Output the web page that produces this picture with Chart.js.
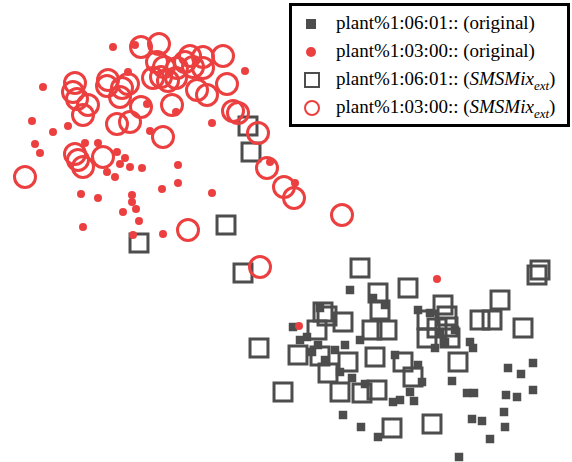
<!DOCTYPE html>
<html>
<head>
<meta charset="utf-8">
<script src="https://cdn.jsdelivr.net/npm/chart.js@4"></script>
<style>
  body { margin: 0; background: #fff; }
  #wrap { position: relative; width: 572px; height: 462px; }
  #legend {
    position: absolute; left: 289px; top: 3px; width: 275px; height: 118px;
    border: 3px solid #000; background: #fff;
    font-family: "Liberation Serif", serif; font-size: 19px; color: #000;
  }
  .row { position: absolute; left: 0; height: 26px; line-height: 26px; white-space: nowrap; }
  .row .mk { position: absolute; left: 12px; top: 6px; width: 14px; height: 14px; }
  .row .tx { position: absolute; left: 44px; top: 0; }
  sub { font-size: 13px; line-height: 0; }
</style>
</head>
<body>
<div id="wrap">
  <canvas id="chart" width="572" height="462"></canvas>
  <div id="legend"></div>
</div>
<script>
// series values, in plot units (x right, y down)
const darkOriginal = [
  [350, 290], [293, 327], [373, 298], [307, 337], [320, 308], [360, 340], [345, 345],
  [470, 342], [473, 348], [508, 368], [521, 374], [533, 363], [533, 390], [506, 395],
  [517, 397], [504, 412], [505, 427], [472, 419], [482, 421], [490, 439], [459, 457],
  [467, 393], [474, 393], [452, 381], [343, 415], [361, 427], [378, 437], [393, 402],
  [400, 400], [414, 401], [410, 392], [318, 345], [312, 352], [325, 360], [335, 350],
  [340, 372], [352, 378], [365, 384], [395, 355], [418, 365], [422, 382], [440, 332],
  [445, 342], [435, 348], [455, 330], [418, 310], [430, 313], [385, 305], [300, 340]
];
const redOriginal = [
  [113, 47], [135, 45], [43, 87], [32, 121], [53, 132], [68, 126], [35, 144], [40, 153],
  [85, 143], [98, 143], [117, 152], [125, 158], [120, 164], [130, 167], [142, 168],
  [107, 172], [115, 177], [147, 104], [150, 131], [176, 112], [128, 72], [212, 123],
  [245, 71], [178, 165], [178, 183], [162, 189], [212, 193], [81, 194], [98, 198],
  [132, 195], [132, 202], [136, 209], [123, 212], [139, 221], [83, 227], [133, 235],
  [163, 234], [270, 162], [295, 183], [437, 279], [299, 326]
];
const darkExt = [
  [248, 126], [251, 152], [226, 225], [139, 243], [243, 273], [360, 268], [408, 288],
  [378, 293], [380, 310], [323, 312], [327, 316], [343, 322], [317, 330], [372, 330],
  [387, 330], [427, 320], [443, 305], [447, 316], [448, 327], [437, 328], [480, 320],
  [492, 320], [500, 300], [523, 328], [537, 275], [540, 270], [427, 338], [450, 338],
  [458, 362], [259, 348], [298, 355], [320, 356], [328, 373], [348, 362], [375, 357],
  [403, 362], [413, 377], [340, 392], [362, 393], [377, 390], [283, 392], [392, 428],
  [432, 424]
];
const redExt = [
  [141, 47], [159, 44], [190, 56], [203, 57], [223, 56], [157, 62], [164, 67], [75, 83],
  [73, 92], [77, 99], [88, 105], [83, 115], [108, 80], [107, 86], [122, 88], [128, 84],
  [120, 97], [141, 107], [117, 124], [130, 122], [153, 78], [161, 77], [168, 81],
  [176, 78], [177, 68], [185, 62], [193, 67], [203, 68], [172, 105], [197, 90], [207, 95],
  [227, 84], [233, 111], [238, 113], [163, 137], [75, 154], [78, 160], [83, 167],
  [103, 157], [25, 177], [258, 133], [267, 168], [284, 187], [294, 198], [342, 215],
  [188, 230], [260, 267]
];
const seriesLabels = [
  "plant%1:06:01:: (original)",
  "plant%1:03:00:: (original)",
  "plant%1:06:01:: (SMSMix_ext)",
  "plant%1:03:00:: (SMSMix_ext)"
];

const RED = "rgb(236, 64, 64)";
const DARK = "rgb(77, 77, 77)";

function toPoints(arr) {
  return arr.map((p) => ({ x: p[0], y: p[1] }));
}

let datasets = [
  {
    label: seriesLabels[0],
    data: toPoints(darkOriginal),
    pointStyle: "rect",
    pointRadius: 6,
    backgroundColor: DARK,
    borderColor: DARK,
    borderWidth: 0,
    order: 4,
  },
  {
    label: seriesLabels[1],
    data: toPoints(redOriginal),
    pointStyle: "circle",
    pointRadius: 4,
    backgroundColor: RED,
    borderColor: RED,
    borderWidth: 0,
    order: 1,
  },
  {
    label: seriesLabels[2],
    data: toPoints(darkExt),
    pointStyle: "rect",
    pointRadius: 12.7,
    backgroundColor: "rgba(0,0,0,0)",
    borderColor: DARK,
    borderWidth: 3,
    order: 3,
  },
  {
    label: seriesLabels[3],
    data: toPoints(redExt),
    pointStyle: "circle",
    pointRadius: 10.5,
    backgroundColor: "rgba(0,0,0,0)",
    borderColor: RED,
    borderWidth: 3,
    order: 2,
  },
];

let chart = new Chart(document.getElementById("chart").getContext("2d"), {
  type: "scatter",
  data: { datasets },
  options: {
    responsive: false,
    animation: false,
    layout: { padding: 0, autoPadding: false },
    plugins: { legend: { display: false }, tooltip: { enabled: false } },
    scales: {
      x: { display: false, min: 0, max: 572 },
      y: { display: false, min: 0, max: 462, reverse: true },
    },
  },
});

// html legend so the subscript can be kept as real text
let legend = document.getElementById("legend");
chart.data.datasets.forEach((ds, i) => {
  let row = document.createElement("div");
  row.className = "row";
  row.style.top = (4 + i * 28) + "px";
  let mk = document.createElement("div");
  mk.className = "mk";
  if (ds.pointStyle === "circle") mk.style.borderRadius = "50%";
  if (ds.borderWidth > 0) {
    mk.style.width = "12px"; mk.style.height = "12px";
    mk.style.border = "2.5px solid " + ds.borderColor;
  } else {
    mk.style.background = ds.backgroundColor;
    mk.style.width = "10px"; mk.style.height = "10px";
    mk.style.left = "14px"; mk.style.top = "9px";
  }
  let tx = document.createElement("span");
  tx.className = "tx";
  let parts = ds.label.split("(");
  if (ds.label.indexOf("_ext") > 0) {
    tx.innerHTML = parts[0] + "(<i>SMSMix</i><sub><i>ext</i></sub>)";
  } else {
    tx.textContent = ds.label;
  }
  row.appendChild(mk);
  row.appendChild(tx);
  legend.appendChild(row);
});
</script>
</body>
</html>
